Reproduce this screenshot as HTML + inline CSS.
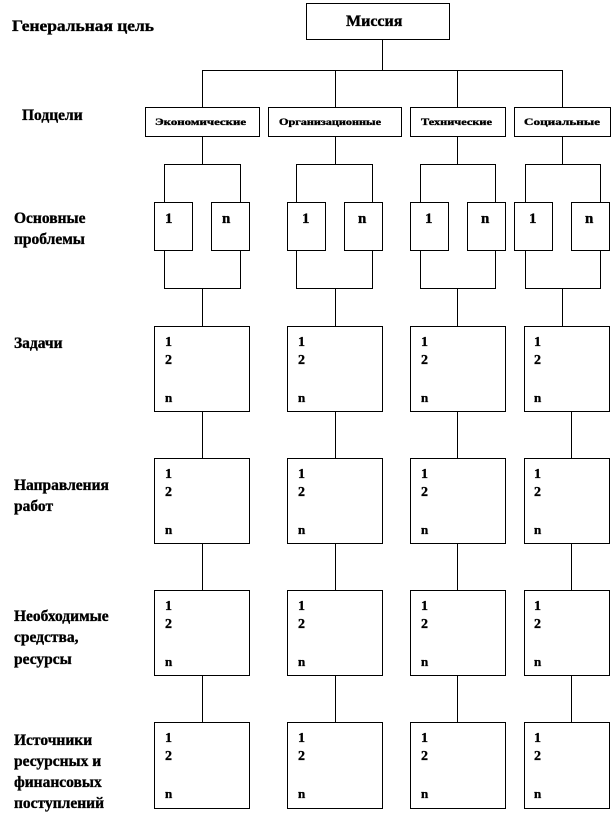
<!DOCTYPE html>
<html><head><meta charset="utf-8"><style>
html,body{margin:0;padding:0;background:#fff;width:613px;height:822px;overflow:hidden}
svg{display:block}
text{font-family:"Liberation Serif","DejaVu Serif",serif;font-weight:bold;fill:#000;stroke:#000;stroke-width:0.35}
</style></head><body>
<svg width="613" height="822" viewBox="0 0 613 822" xmlns="http://www.w3.org/2000/svg">
<g fill="none" stroke="#000" stroke-width="1">
<rect x="306.5" y="3.5" width="143" height="36"/>
<path d="M382.5 40V70.5M202.5 70.5H562.5M202.5 70V107M335.5 70V107M457.5 70V107M562.5 70V107"/>
<rect x="145.5" y="107.5" width="114" height="29"/>
<rect x="268.5" y="107.5" width="133" height="29"/>
<rect x="410.5" y="107.5" width="95" height="29"/>
<rect x="514.5" y="107.5" width="96" height="29"/>
<path d="M202.5 137V164.5M164.5 164.5H240.5M164.5 164V202M240.5 164V202
M335.5 137V164.5M296.5 164.5H372.5M296.5 164V202M372.5 164V202
M457.5 137V164.5M420.5 164.5H495.5M420.5 164V202M495.5 164V202
M562.5 137V164.5M525.5 164.5H600.5M525.5 164V202M600.5 164V202"/>
<rect x="154.5" y="202.5" width="38" height="48"/><rect x="211.5" y="202.5" width="38" height="48"/>
<rect x="287.5" y="202.5" width="38" height="48"/><rect x="344.5" y="202.5" width="38" height="48"/>
<rect x="410.5" y="202.5" width="38" height="48"/><rect x="467.5" y="202.5" width="38" height="48"/>
<rect x="514.5" y="202.5" width="38" height="48"/><rect x="571.5" y="202.5" width="38" height="48"/>
<path d="M164.5 251V288.5H240.5V251M202.5 288V326
M296.5 251V288.5H372.5V251M335.5 288V326
M420.5 251V288.5H495.5V251M457.5 288V326
M525.5 251V288.5H600.5V251M562.5 288V326"/>
<g id="r1">
<rect x="154.5" y="326.5" width="95" height="85"/>
<rect x="287.5" y="326.5" width="95" height="85"/>
<rect x="410.5" y="326.5" width="95" height="85"/>
<rect x="524.5" y="326.5" width="85" height="85"/>
<path d="M202.5 412V458M335.5 412V458M457.5 412V458M571.5 412V458"/>
</g>
<use href="#r1" y="132"/>
<use href="#r1" y="264"/>
<rect x="154.5" y="722.5" width="95" height="86"/>
<rect x="287.5" y="722.5" width="95" height="86"/>
<rect x="410.5" y="722.5" width="95" height="86"/>
<rect x="524.5" y="722.5" width="85" height="86"/>
</g>
<text x="346" y="26" font-size="16">Миссия</text>
<g font-size="15.5">
<text x="12" y="31" textLength="142" lengthAdjust="spacingAndGlyphs">Генеральная цель</text>
<text x="22" y="120">Подцели</text>
<text x="14" y="223">Основные</text><text x="14" y="244">проблемы</text>
<text x="14" y="348">Задачи</text>
<text x="14" y="490">Направления</text><text x="14" y="511">работ</text>
<text x="14" y="621">Необходимые</text><text x="14" y="642">средства,</text><text x="14" y="664">ресурсы</text>
<text x="14" y="745">Источники</text><text x="14" y="766">ресурсных и</text><text x="14" y="787">финансовых</text><text x="14" y="808">поступлений</text>
</g>
<g font-size="9">
<text x="155" y="125" textLength="91" lengthAdjust="spacingAndGlyphs">Экономические</text>
<text x="279" y="125" textLength="102" lengthAdjust="spacingAndGlyphs">Организационные</text>
<text x="421" y="125" textLength="71" lengthAdjust="spacingAndGlyphs">Технические</text>
<text x="524" y="125" textLength="76" lengthAdjust="spacingAndGlyphs">Социальные</text>
</g>
<g font-size="15">
<text x="165" y="223">1</text><text x="222" y="223">n</text>
<text x="302" y="223">1</text><text x="358" y="223">n</text>
<text x="425" y="223">1</text><text x="481" y="223">n</text>
<text x="529" y="223">1</text><text x="585" y="223">n</text>
</g>
<g font-size="14" id="nums">
<text x="165" y="346">1</text><text x="165" y="364">2</text><text x="165" y="402" font-size="13">n</text>
<text x="298" y="346">1</text><text x="298" y="364">2</text><text x="298" y="402" font-size="13">n</text>
<text x="421" y="346">1</text><text x="421" y="364">2</text><text x="421" y="402" font-size="13">n</text>
<text x="534" y="346">1</text><text x="534" y="364">2</text><text x="534" y="402" font-size="13">n</text>
</g>
<use href="#nums" y="132"/>
<use href="#nums" y="264"/>
<use href="#nums" y="396"/>
</svg>
</body></html>
